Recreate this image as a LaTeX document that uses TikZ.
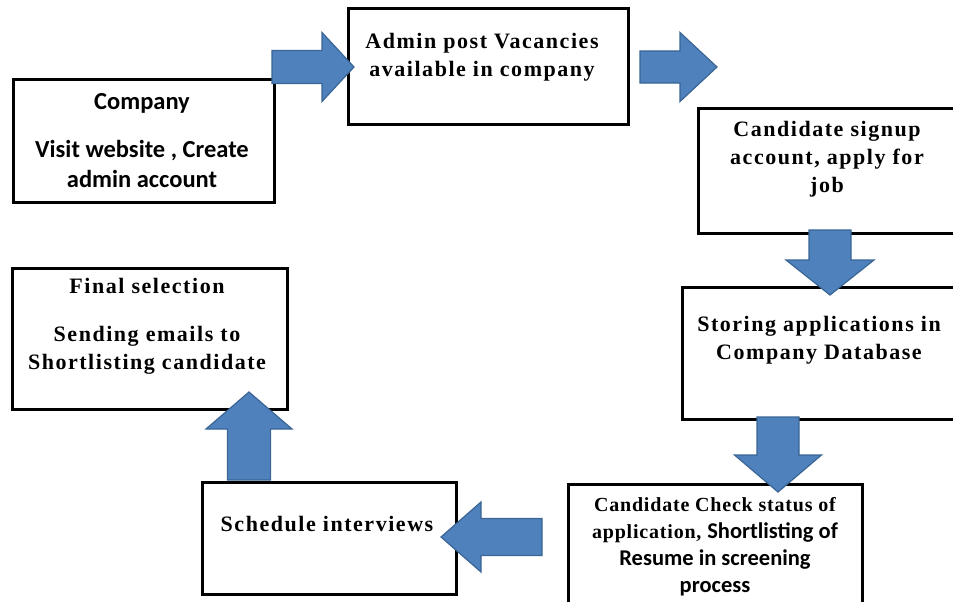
\documentclass[tikz,border=0pt]{standalone}
\usepackage{fontspec}
\setmainfont{Liberation Serif}
\newfontfamily\calfont{Carlito}
\newfontfamily\timesfont[LetterSpace=7]{Liberation Serif}
\newfontfamily\timestight[LetterSpace=4]{Liberation Serif}
\usetikzlibrary{calc,positioning}

\definecolor{arrblue}{HTML}{4F81BD}
\definecolor{arrborder}{HTML}{3A6595}

\tikzset{
  box/.style={draw=black, line width=2.6pt, fill=white, anchor=north west, inner sep=0pt},
  sertxt/.style={align=center, anchor=north, inner sep=0pt,
    font=\timesfont\bfseries\fontsize{22}{28}\selectfont},
  sanstxt/.style={align=center, anchor=north, inner sep=0pt,
    font=\calfont\bfseries\fontsize{24.5}{30}\selectfont},
  blockarr/.style={fill=arrblue, draw=arrborder, line width=1.2pt, line join=miter}
}

% 粗箭头: 起点, 终点, 箭杆半宽, 箭头半宽, 箭头长
\newcommand\fatarrow[5]{%
  \coordinate (hb) at ($(#2)!#5pt!(#1)$);
  \draw[blockarr] ($(#1)!#3pt!90:(#2)$) -- ($(hb)!#3pt!90:(#2)$)
    -- ($(hb)!#4pt!90:(#2)$) -- (#2) -- ($(hb)!#4pt!-90:(#2)$)
    -- ($(hb)!#3pt!-90:(#2)$) -- ($(#1)!#3pt!-90:(#2)$) -- cycle;
}
\newcommand\calpart{\calfont\fontsize{22.5}{27}\selectfont}

\begin{document}
\begin{tikzpicture}[x=1pt,y=-1pt]
  %画布大小
  \useasboundingbox (0,0) rectangle (953,602);
  \clip (0,0) rectangle (953,602);
  %画方框
  \node[box, minimum width=261pt, minimum height=123pt] (company) at (12,78) {};
  \node[box, minimum width=280pt, minimum height=116pt] (admin) at (347,7) {};
  \node[box, minimum width=290pt, minimum height=125pt] (signup) at (697,107) {};
  \node[box, minimum width=300pt, minimum height=132pt] (storing) at (681,286) {};
  \node[box, minimum width=294pt, minimum height=130pt] (check) at (567,483) {};
  \node[box, minimum width=254pt, minimum height=112pt] (schedule) at (201,481) {};
  \node[box, minimum width=275pt, minimum height=141pt] (final) at (11,267) {};
  %写文字
  \node[sanstxt] (tcompany) at (142,93) {Company\\[18pt]Visit website , Create\\admin account};
  \node[sertxt] (tadmin) at (482,33) {Admin post Vacancies\\available in company};
  \node[sertxt] (tsignup) at (827,121) {Candidate signup\\account, apply for\\job};
  \node[sertxt] (tstoring) at (819,316) {Storing applications in\\Company Database};
  \node[sertxt, font=\timestight\bfseries\fontsize{20}{27}\selectfont] (tcheck) at (715,497)
    {Candidate Check status of\\application, {\calpart Shortlisting of}\\
     {\calpart Resume in screening}\\{\calpart process}};
  \node[sertxt] (tschedule) at (327,516) {Schedule interviews};
  \node[sertxt] (tfinal) at (147,278) {Final selection\\[20pt]Sending emails to\\Shortlisting candidate};
  %箭头端点
  \coordinate (a1s) at (272,67);  \coordinate (a1e) at (354,67);
  \coordinate (a2s) at (640,67);  \coordinate (a2e) at (717,67);
  \coordinate (a3s) at (830,230); \coordinate (a3e) at (830,295);
  \coordinate (a4s) at (778,417); \coordinate (a4e) at (778,492);
  \coordinate (a5s) at (542,537); \coordinate (a5e) at (441,537);
  \coordinate (a6s) at (249,480); \coordinate (a6e) at (249,392);
  %画箭头
  \foreach \s/\e/\sw/\hw/\hl in {a1s/a1e/16.5/34.5/32, a2s/a2e/16/34.5/37,
      a3s/a3e/21/44/35, a4s/a4e/21/43.5/37, a5s/a5e/18.5/35/40, a6s/a6e/21.5/43/37}
    {\fatarrow{\s}{\e}{\sw}{\hw}{\hl}}
\end{tikzpicture}
\end{document}
